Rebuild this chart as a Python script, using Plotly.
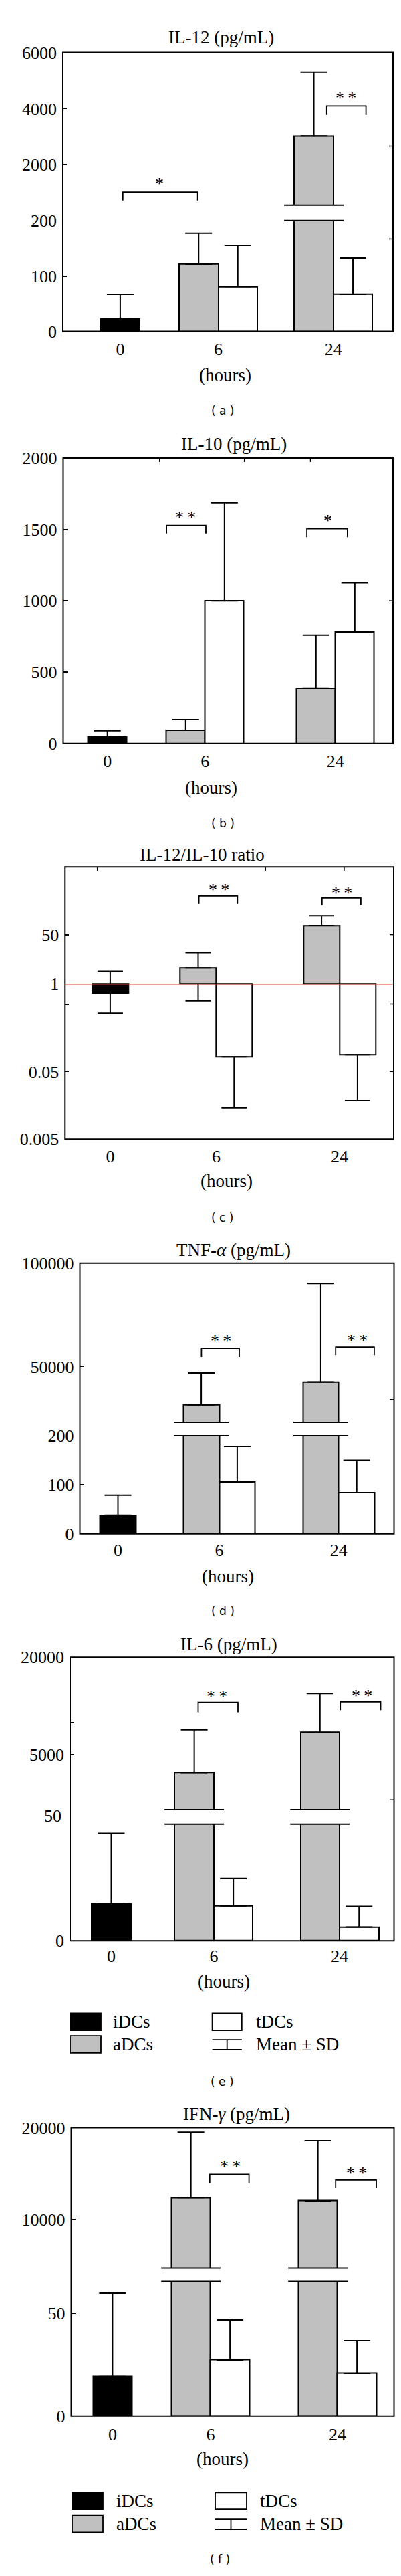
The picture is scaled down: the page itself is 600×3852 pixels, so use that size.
import plotly.graph_objects as go

FIG_W, FIG_H = 600, 3852
SERIF = "Liberation Serif, Times New Roman, serif"
SANS = "DejaVu Sans, Arial, sans-serif"

TIME_LABELS = ["0", "6", "24"]
GROUPS = ["iDCs", "aDCs", "tDCs"]
FILL = {"iDCs": "#000000", "aDCs": "#c0c0c0", "tDCs": "#ffffff"}

# ---------------- data ----------------
# (a) IL-12 (pg/mL)  mean and SD; iDCs at 0 h, aDCs/tDCs at 6 h and 24 h
il12_idc_mean = [23];          il12_idc_sd = [44]
il12_adc_mean = [121, 3024];   il12_adc_sd = [56, 2279]
il12_tdc_mean = [81, 67];      il12_tdc_sd = [74, 65]
# (b) IL-10 (pg/mL)
il10_idc_mean = [47];          il10_idc_sd = [42]
il10_adc_mean = [92, 384];     il10_adc_sd = [76, 375]
il10_tdc_mean = [1000, 781];   il10_tdc_sd = [687, 345]
# (c) IL-12/IL-10 ratio: mean and whisker ends (None = not drawn)
ratio_idc_mean = [0.73];           ratio_idc_hi = [2.72];         ratio_idc_lo = [0.367]
ratio_adc_mean = [3.6, 102];       ratio_adc_hi = [11.9, 225];    ratio_adc_lo = [0.56, None]
ratio_tdc_mean = [0.083, 0.089];   ratio_tdc_hi = [None, None];   ratio_tdc_lo = [0.0145, 0.0185]
# (d) TNF-alpha (pg/mL)
tnf_idc_mean = [38];             tnf_idc_sd = [41]
tnf_adc_mean = [31450, 42520];   tnf_adc_sd = [15440, 47650]
tnf_tdc_mean = [106, 84];        tnf_tdc_sd = [72, 66]
# (e) IL-6 (pg/mL)
il6_idc_mean = [14.8];           il6_idc_sd = [28.2]
il6_adc_mean = [2300, 8460];     il6_adc_sd = [6550, 5990]
il6_tdc_mean = [14.0, 5.5];      il6_tdc_sd = [11.0, 8.3]
# (f) IFN-gamma (pg/mL)
ifng_idc_mean = [19.2];          ifng_idc_sd = [40.5]
ifng_adc_mean = [12366, 12019];  ifng_adc_sd = [7142, 6562]
ifng_tdc_mean = [27.2, 20.7];    ifng_tdc_sd = [19.5, 15.9]


def PX(x):
    return x / FIG_W


def PY(y):
    return 1 - y / FIG_H


# ---------------- panel layout (pixel geometry) ----------------
panels = [
    dict(letter="a", title="IL-12 (pg/mL)", title_xy=(323, 34.5), box=(86, 580, 57, 477),
         pos=(171.9, 318.5, 490.8), bw=58.5, xstand=9, hours_xy=(329, 543.5), letter_xy=(325, 596),
         data=dict(iDCs=(il12_idc_mean, il12_idc_sd), aDCs=(il12_adc_mean, il12_adc_sd),
                   tDCs=(il12_tdc_mean, il12_tdc_sd)),
         segs=[dict(top=310, bottom=477, range=[0, 200], tickvals=[0, 100, 200]),
               dict(top=57, bottom=287, range=[556, 6000], tickvals=[2000, 4000, 6000])],
         brackets=[(175.8, 287.7, 267.2, 279.9, 230.8, 250.8, "*"),
                   (480.8, 539.6, 137.4, 150.9, 509.6, 121.8, "* *")],
         rticks=[198, 338], tticks=[]),
    dict(letter="b", title="IL-10 (pg/mL)", title_xy=(342, 647), box=(86.5, 580, 668, 1098),
         pos=(152.7, 298.8, 493.8), bw=58, xstand=8, hours_xy=(308, 1164.5), letter_xy=(325, 1218),
         data=dict(iDCs=(il10_idc_mean, il10_idc_sd), aDCs=(il10_adc_mean, il10_adc_sd),
                   tDCs=(il10_tdc_mean, il10_tdc_sd)),
         segs=[dict(top=668, bottom=1098, range=[0, 2000], tickvals=[0, 500, 1000, 1500, 2000])],
         brackets=[(241.1, 300.0, 769.5, 781.7, 269.2, 752.7, "* *"),
                   (451.1, 511.9, 774.5, 787.2, 482.7, 758.0, "*")],
         rticks=[882.8], tticks=[230.8, 357.7, 456.5]),
    dict(letter="c", title="IL-12/IL-10 ratio", title_xy=(294, 1266), box=(89.3, 581, 1284, 1694),
         pos=(156.9, 315.4, 500.0), bw=53.8, xstand=8, hours_xy=(331, 1757), letter_xy=(324, 1813),
         ratio=True,
         segs=[dict(top=1460.3, bottom=1694, range=[-2.301, 0], type="log",
                    tickvals=[0.005, 0.05, 0.5, 1], ticktext=["0.005", "0.05", "", "1"]),
               dict(top=1284, bottom=1460.3, range=[0, 4.03], type="log",
                    tickvals=[50], ticktext=["50"])],
         brackets=[(289.6, 347.3, 1327.9, 1339.9, 319.2, 1314.8, "* *"),
                   (473.8, 531.9, 1330.9, 1341.8, 503.8, 1319.6, "* *")],
         rticks=[1386, 1490.7, 1592.3], tticks=[137.7, 389.2, 506.9]),
    dict(letter="d", title="TNF-<i>α</i> (pg/mL)", title_xy=(342, 1861), box=(111.5, 581.5, 1881, 2289),
         pos=(168.5, 320.0, 498.8), bw=53.8, xstand=6, hours_xy=(333, 2353), letter_xy=(325, 2405),
         data=dict(iDCs=(tnf_idc_mean, tnf_idc_sd), aDCs=(tnf_adc_mean, tnf_adc_sd),
                   tDCs=(tnf_tdc_mean, tnf_tdc_sd)),
         segs=[dict(top=2141, bottom=2289, range=[0, 200], tickvals=[0, 100, 200]),
               dict(top=1881, bottom=2121, range=[22980, 100000], tickvals=[50000, 100000])],
         brackets=[(293.4, 350.0, 2009.2, 2022.2, 322.3, 1994.7, "* *"),
                   (494.2, 551.9, 2007.3, 2019.5, 526.9, 1993.9, "* *")],
         rticks=[2086.5], tticks=[]),
    dict(letter="e", title="IL-6 (pg/mL)", title_xy=(334.6, 2455), box=(97, 581.5, 2475, 2902),
         pos=(158.5, 311.9, 500.0), bw=58.5, xstand=5, hours_xy=(327, 2963), letter_xy=(324, 3114),
         data=dict(iDCs=(il6_idc_mean, il6_idc_sd), aDCs=(il6_adc_mean, il6_adc_sd),
                   tDCs=(il6_tdc_mean, il6_tdc_sd)),
         segs=[dict(top=2726.3, bottom=2902, range=[0, 46.65], tickvals=[0]),
               dict(top=2475, bottom=2704.4, range=[-3400, 20000], tickvals=[5000, 10000, 20000],
                    ticktext=["5000", "", "20000"])],
         gap_labels=[("50", 2713.7)],
         brackets=[(288.5, 348.0, 2542.8, 2557.7, 316.2, 2529.8, "* *"),
                   (501.2, 561.5, 2541.9, 2554.5, 533.8, 2528.4, "* *")],
         rticks=[2689.5], tticks=[],
         legend=dict(rows=(3024, 3058), bh=26, bx=(97, 143), bx2=(309.6, 353.8), lx=(159, 373))),
    dict(letter="f", title="IFN-<i>γ</i> (pg/mL)", title_xy=(346, 3163), box=(98.5, 581.5, 3183.5, 3618),
         pos=(160.4, 306.9, 496.9), bw=58.5, xstand=9, hours_xy=(325, 3683), letter_xy=(321, 3834),
         data=dict(iDCs=(ifng_idc_mean, ifng_idc_sd), aDCs=(ifng_adc_mean, ifng_adc_sd),
                   tDCs=(ifng_tdc_mean, ifng_tdc_sd)),
         segs=[dict(top=3415.3, bottom=3618, range=[0, 65.35], tickvals=[0, 50]),
               dict(top=3183.5, bottom=3395.1, range=[4690, 20000], tickvals=[10000, 20000])],
         brackets=[(305.8, 364.6, 3254.0, 3267.3, 336.5, 3237.5, "* *"),
                   (494.2, 555.0, 3262.5, 3274.7, 525.8, 3248.2, "* *")],
         rticks=[], tticks=[],
         legend=dict(rows=(3746, 3780.5), bh=25, bx=(100, 146), bx2=(314, 361), lx=(163.5, 379))),
]

fig = go.Figure()
layout = {}
shapes = []
annotations = []
LINE = dict(color="black", width=2)


def bar_x(P, group):
    p0, p6, p24 = P["pos"]
    w = P["bw"]
    if group == "iDCs":
        return [p0]
    if group == "aDCs":
        return [p6 - w / 2, p24 - w / 2]
    return [p6 + w / 2, p24 + w / 2]


def text(x, y, s, size=27, family=SERIF, xanchor="center"):
    annotations.append(dict(x=PX(x), y=PY(y), xref="paper", yref="paper", text=s, showarrow=False,
                            xanchor=xanchor, yanchor="middle",
                            font=dict(family=family, size=size, color="black")))


yidx = 0
for k, P in enumerate(panels, start=1):
    xname = "x" if k == 1 else f"x{k}"
    xkey = "xaxis" if k == 1 else f"xaxis{k}"
    L, R, T, B = P["box"]
    for si, seg in enumerate(P["segs"]):
        yidx += 1
        yname = "y" if yidx == 1 else f"y{yidx}"
        ykey = "yaxis" if yidx == 1 else f"yaxis{yidx}"
        seg["yname"] = yname
        ax = dict(domain=[PY(seg["bottom"]), PY(seg["top"])], range=seg["range"],
                  type=seg.get("type", "linear"), anchor=xname,
                  tickmode="array", tickvals=seg["tickvals"],
                  ticktext=seg.get("ticktext", [str(v) for v in seg["tickvals"]]),
                  ticks="inside", ticklen=6, tickwidth=1.5, tickcolor="black",
                  showline=False, showgrid=False, zeroline=False, fixedrange=True,
                  ticklabelstandoff=8,
                  tickfont=dict(family=SERIF, size=26, color="black"))
        layout[ykey] = ax
    layout[xkey] = dict(domain=[PX(L), PX(R)], range=[L, R], anchor=P["segs"][0]["yname"],
                        tickmode="array", tickvals=list(P["pos"]), ticktext=TIME_LABELS,
                        ticks="", showline=False, showgrid=False, zeroline=False, fixedrange=True,
                        ticklabelstandoff=P["xstand"],
                        tickfont=dict(family=SERIF, size=26, color="black"))

    if P.get("ratio"):
        src = dict(iDCs=(ratio_idc_mean, ratio_idc_hi, ratio_idc_lo),
                   aDCs=(ratio_adc_mean, ratio_adc_hi, ratio_adc_lo),
                   tDCs=(ratio_tdc_mean, ratio_tdc_hi, ratio_tdc_lo))
        lower, upper = P["segs"]
        for seg in (lower, upper):
            for g in GROUPS:
                m = src[g][0]
                fig.add_trace(go.Bar(x=bar_x(P, g), y=[v - 1 for v in m], base=1, width=P["bw"],
                                     marker=dict(color=FILL[g], line=dict(color="black", width=2)),
                                     xaxis=xname, yaxis=seg["yname"], showlegend=False, hoverinfo="skip"))
        for g in GROUPS:
            m, hi, lo = src[g]
            xs = bar_x(P, g)
            ih = [i for i in range(len(m)) if hi[i] is not None]
            il = [i for i in range(len(m)) if lo[i] is not None]
            if ih:
                fig.add_trace(go.Scatter(x=[xs[i] for i in ih], y=[m[i] for i in ih], mode="markers",
                                         marker=dict(size=1, opacity=0),
                                         error_y=dict(type="data", symmetric=False,
                                                      array=[hi[i] - m[i] for i in ih],
                                                      arrayminus=[0] * len(ih),
                                                      color="black", thickness=2, width=19),
                                         xaxis=xname, yaxis=upper["yname"], showlegend=False,
                                         hoverinfo="skip"))
            if il:
                fig.add_trace(go.Scatter(x=[xs[i] for i in il], y=[m[i] for i in il], mode="markers",
                                         marker=dict(size=1, opacity=0),
                                         error_y=dict(type="data", symmetric=False,
                                                      array=[0] * len(il),
                                                      arrayminus=[m[i] - lo[i] for i in il],
                                                      color="black", thickness=2, width=19),
                                         xaxis=xname, yaxis=lower["yname"], showlegend=False,
                                         hoverinfo="skip"))
        shapes.append(dict(type="line", xref="paper", yref=lower["yname"], x0=PX(L), x1=PX(R), y0=1, y1=1,
                           line=dict(color="#e63b3b", width=2.6), layer="above"))
    else:
        lower = P["segs"][0]
        lower_max = lower["range"][1]
        for si, seg in enumerate(P["segs"]):
            is_upper = si == 1
            rng = seg["range"]
            base = rng[0] - 0.1 * (rng[1] - rng[0]) if is_upper else None
            for g in GROUPS:
                m, sd = P["data"][g]
                xs = bar_x(P, g)
                idx = [i for i in range(len(m)) if (m[i] > lower_max or not is_upper)]
                if not idx:
                    continue
                xv = [xs[i] for i in idx]
                mv = [m[i] for i in idx]
                sv = [sd[i] for i in idx]
                if base is None:
                    fig.add_trace(go.Bar(x=xv, y=mv, width=P["bw"],
                                         marker=dict(color=FILL[g], line=dict(color="black", width=2)),
                                         xaxis=xname, yaxis=seg["yname"], showlegend=False,
                                         hoverinfo="skip"))
                else:
                    fig.add_trace(go.Bar(x=xv, y=[v - base for v in mv], base=base, width=P["bw"],
                                         marker=dict(color=FILL[g], line=dict(color="black", width=2)),
                                         xaxis=xname, yaxis=seg["yname"], showlegend=False,
                                         hoverinfo="skip"))
                fig.add_trace(go.Scatter(x=xv, y=mv, mode="markers", marker=dict(size=1, opacity=0),
                                         error_y=dict(type="data", symmetric=False, array=sv,
                                                      arrayminus=[0] * len(sv),
                                                      color="black", thickness=2, width=20),
                                         xaxis=xname, yaxis=seg["yname"], showlegend=False,
                                         hoverinfo="skip"))
        if len(P["segs"]) == 2:
            upper = P["segs"][1]
            m = P["data"]["aDCs"][0]
            xs = bar_x(P, "aDCs")
            for i in range(len(m)):
                if m[i] > lower_max:
                    half = 0.76 * P["bw"]
                    for yy in (lower["top"], upper["bottom"]):
                        shapes.append(dict(type="line", xref=xname, yref="paper",
                                           x0=xs[i] - half, x1=xs[i] + half, y0=PY(yy), y1=PY(yy),
                                           line=LINE, layer="above"))

    # frame
    shapes.append(dict(type="rect", xref="paper", yref="paper", x0=PX(L), x1=PX(R), y0=PY(B), y1=PY(T),
                       line=LINE, layer="above"))
    for yy in P["rticks"]:
        shapes.append(dict(type="line", xref="paper", yref="paper", x0=PX(R - 6), x1=PX(R),
                           y0=PY(yy), y1=PY(yy), line=dict(color="black", width=1.5)))
    for xx in P["tticks"]:
        shapes.append(dict(type="line", xref="paper", yref="paper", x0=PX(xx), x1=PX(xx),
                           y0=PY(T), y1=PY(T + 6), line=dict(color="black", width=1.5)))
    for lab, yy in P.get("gap_labels", []):
        text(L - 11, yy, lab, size=26, xanchor="right")

    # significance brackets
    for x0, x1, yb, yl, sx, sy, s in P["brackets"]:
        shapes.append(dict(type="path", xref="paper", yref="paper",
                           path=f"M{PX(x0)},{PY(yl)} L{PX(x0)},{PY(yb)} L{PX(x1)},{PY(yb)} L{PX(x1)},{PY(yl)}",
                           line=dict(color="black", width=1.8)))
        text(sx, sy + 4, s.replace(" ", "\u2009"), size=26)

    text(*P["title_xy"], P["title"], size=27)
    text(*P["hours_xy"], "(hours)", size=27)
    text(*P["letter_xy"], f"( {P['letter']} )", size=17, family=SANS)

    lg = P.get("legend")
    if lg:
        r1, r2 = lg["rows"]
        h = lg["bh"]
        items = [(lg["bx"], r1, "iDCs", FILL["iDCs"], lg["lx"][0]),
                 (lg["bx"], r2, "aDCs", FILL["aDCs"], lg["lx"][0]),
                 (lg["bx2"], r1, "tDCs", FILL["tDCs"], lg["lx"][1])]
        for (bx0, bx1), ry, name, col, lx in items:
            shapes.append(dict(type="rect", xref="paper", yref="paper", x0=PX(bx0), x1=PX(bx1),
                               y0=PY(ry + h / 2), y1=PY(ry - h / 2), fillcolor=col,
                               line=dict(color="black", width=1.8)))
            text(lx, ry, name, size=27, xanchor="left")
        bx0, bx1 = lg["bx2"]
        cx = (bx0 + bx1) / 2
        ya, yb2 = r2 - 7, r2 + 8
        shapes.append(dict(type="path", xref="paper", yref="paper",
                           path=(f"M{PX(bx0)},{PY(ya)} L{PX(bx1)},{PY(ya)} "
                                 f"M{PX(cx)},{PY(ya)} L{PX(cx)},{PY(yb2)} "
                                 f"M{PX(bx0)},{PY(yb2)} L{PX(bx1)},{PY(yb2)}"),
                           line=dict(color="black", width=1.8)))
        text(lg["lx"][1], r2, "Mean ± SD", size=27, xanchor="left")

fig.update_layout(width=FIG_W, height=FIG_H, autosize=False,
                  margin=dict(l=0, r=0, t=0, b=0),
                  paper_bgcolor="white", plot_bgcolor="white",
                  font=dict(family=SERIF, color="black"),
                  showlegend=False, barmode="overlay", bargap=0,
                  shapes=shapes, annotations=annotations, **layout)

fig.write_html("out.html", config={"displayModeBar": False})
